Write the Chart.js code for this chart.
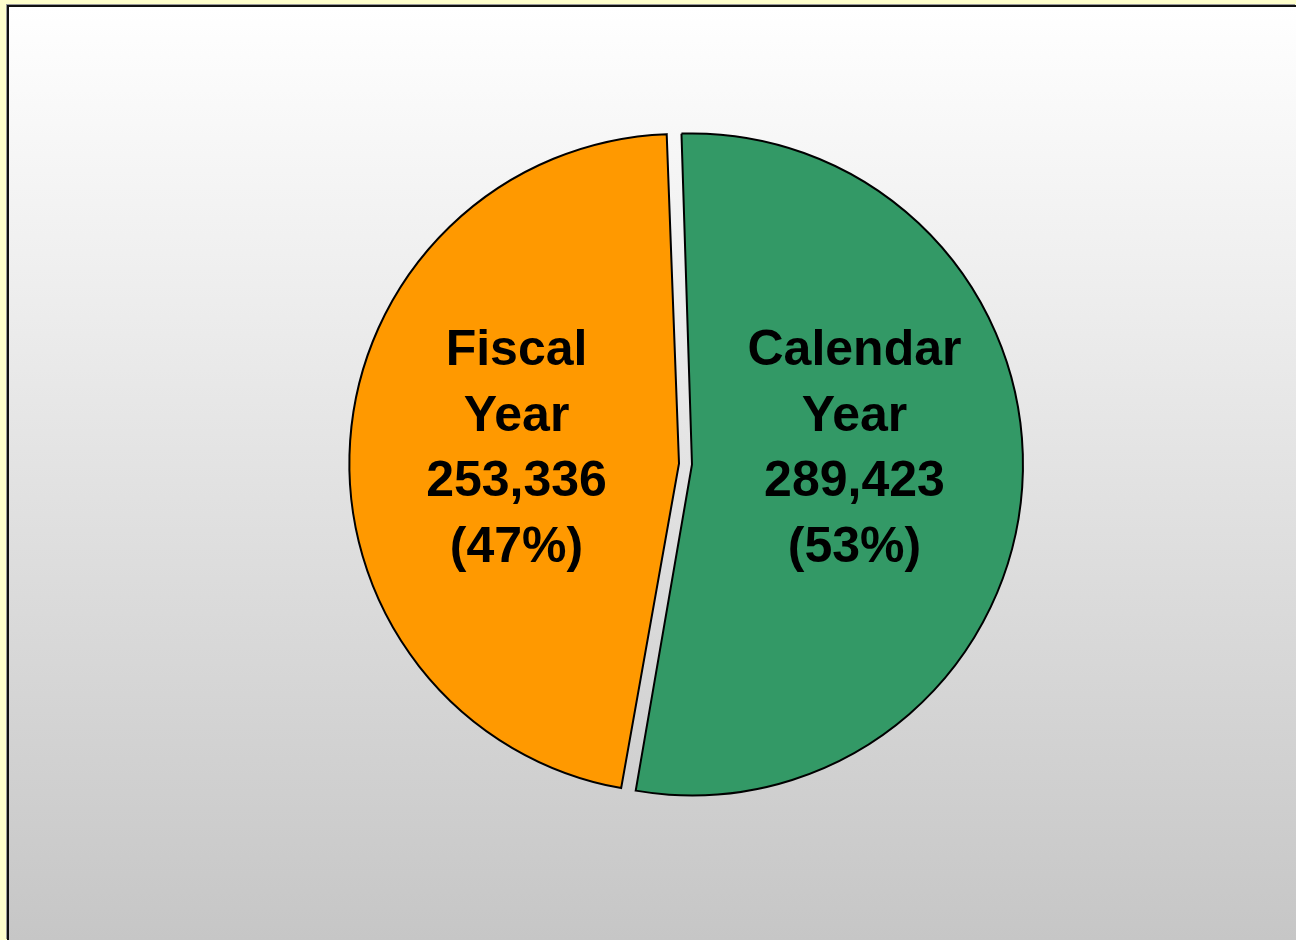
<!DOCTYPE html>
<html>
<head>
<meta charset="utf-8">
<script src="https://cdn.jsdelivr.net/npm/chart.js@4/dist/chart.umd.min.js"></script>
<style>
    html, body { margin: 0; padding: 0; background: #FFFFCC; overflow: hidden; }
    #panel {
        position: absolute; left: 7px; top: 5px; width: 1289px; height: 935px;
        border-left: 2px solid #111; border-top: 2px solid #111;
        box-shadow: -1px -1px 0 #999;
        background: linear-gradient(to bottom, #FFFFFF 0%, #C6C6C6 100%);
        box-sizing: border-box;
    }
    #pie-wrap { position: absolute; left: 0; top: 0; width: 1296px; height: 940px; }
</style>
</head>
<body>
<div id="panel"></div>
<div id="pie-wrap"><canvas id="pie-canvas" width="1296" height="940"></canvas></div>
<script>
"use strict";
const categories = ["Calendar Year", "Fiscal Year"];
const labelLines = [["Calendar", "Year"], ["Fiscal", "Year"]];
const counts = [289423, 253336];
const sliceColours = ["#339966", "#FF9900"];

function formatCount(v) {
    return v.toLocaleString("en-US");
}

const sliceLabels = {
    id: "sliceLabels",
    afterDatasetsDraw(chart) {
        const ctx = chart.ctx;
        const meta = chart.getDatasetMeta(0);
        const total = counts.reduce((a, b) => a + b, 0);
        ctx.save();
        ctx.font = "bold 50px 'Liberation Sans', Arial, sans-serif";
        ctx.fillStyle = "#000";
        ctx.textAlign = "center";
        ctx.textBaseline = "alphabetic";
        meta.data.forEach((arc, i) => {
            const mid = (arc.startAngle + arc.endAngle) / 2;
            const cx = arc.x + Math.cos(mid) * arc.outerRadius * 0.522;
            const lines = labelLines[i].concat([
                formatCount(counts[i]),
                "(" + Math.round(counts[i] / total * 100) + "%)"
            ]);
            const lineH = 65.7;
            let y = arc.y - 99;
            lines.forEach(line => {
                ctx.fillText(line, cx, y);
                y += lineH;
            });
        });
        ctx.restore();
    }
};

function createChart() {
    const canvas = document.getElementById("pie-canvas");
    const context = canvas.getContext("2d");
    if (context === null) {
        console.error("failed to create pie canvas context");
        return;
    }
    new Chart(context, {
        type: "pie",
        data: {
            labels: categories,
            datasets: [
                {
                    data: counts,
                    backgroundColor: sliceColours,
                    borderColor: "#000",
                    borderWidth: 2,
                    borderJoinStyle: "miter",
                    offset: 26,
                    radius: 324.5,
                },
            ],
        },
        options: {
            responsive: false,
            animation: false,
            rotation: -2,
            layout: { padding: { left: 75, right: 0, top: 0, bottom: 12 } },
            plugins: {
                legend: { display: false },
                tooltip: { enabled: false },
            },
        },
        plugins: [sliceLabels],
    });
}
document.addEventListener("DOMContentLoaded", createChart);
</script>
</body>
</html>
